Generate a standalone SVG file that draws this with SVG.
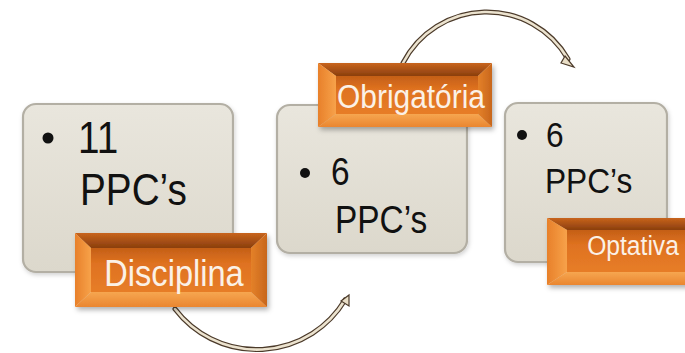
<svg xmlns="http://www.w3.org/2000/svg" width="685" height="353" viewBox="0 0 685 353">
  <defs>
    <linearGradient id="boxFill" x1="0" y1="0" x2="0" y2="1">
      <stop offset="0" stop-color="#e9e6dd"/>
      <stop offset="1" stop-color="#dcd8cc"/>
    </linearGradient>
    <linearGradient id="faceFill" x1="0" y1="0" x2="0" y2="1">
      <stop offset="0" stop-color="#c45f17"/>
      <stop offset="0.35" stop-color="#df7220"/>
      <stop offset="1" stop-color="#e77d28"/>
    </linearGradient>
    <linearGradient id="topBevel" x1="0" y1="0" x2="0" y2="1">
      <stop offset="0" stop-color="#c8641c"/>
      <stop offset="1" stop-color="#8a3e0e"/>
    </linearGradient>
    <linearGradient id="leftBevel" x1="0" y1="0" x2="1" y2="0">
      <stop offset="0" stop-color="#e8802a"/>
      <stop offset="1" stop-color="#f7a24a"/>
    </linearGradient>
    <linearGradient id="bottomBevel" x1="0" y1="0" x2="0" y2="1">
      <stop offset="0" stop-color="#f6a650"/>
      <stop offset="1" stop-color="#ea8630"/>
    </linearGradient>
    <linearGradient id="rightBevel" x1="0" y1="0" x2="1" y2="0">
      <stop offset="0" stop-color="#e48129"/>
      <stop offset="1" stop-color="#c8661c"/>
    </linearGradient>
    <filter id="shadow" x="-10%" y="-10%" width="125%" height="130%">
      <feDropShadow dx="2" dy="3" stdDeviation="2.5" flood-color="#000" flood-opacity="0.3"/>
    </filter>
    <filter id="softShadow" x="-10%" y="-10%" width="125%" height="130%">
      <feDropShadow dx="1" dy="2" stdDeviation="2" flood-color="#000" flood-opacity="0.18"/>
    </filter>
  </defs>
  <style>
    .box { fill: url(#boxFill); stroke: #b3afa4; stroke-width: 2.2; filter: url(#softShadow); }
    .txt { font-family: "Liberation Sans", Arial, sans-serif; fill: #111; }
    .lbl { font-family: "Liberation Sans", Arial, sans-serif; fill: #fbf1e6; text-anchor: middle; }
    .bullet { fill: #111; }
    .tb { fill: url(#topBevel); }
    .lb { fill: url(#leftBevel); }
    .bb { fill: url(#bottomBevel); }
    .rb { fill: url(#rightBevel); }
    .face { fill: url(#faceFill); }
    .arcOut { fill: none; stroke: #4b3a2a; stroke-width: 5; stroke-linecap: round; }
    .arcIn { fill: none; stroke: #ece3cf; stroke-width: 2.6; stroke-linecap: round; }
    .head { fill: #e9dec6; stroke: #4b3a2a; stroke-width: 1.2; }
  </style>

  <g id="connectors">
    <path class="arcOut" d="M403,63 A94,94 0 0,1 568,59"/>
    <path class="arcIn" d="M403,63 A94,94 0 0,1 568,59"/>
    <path class="head" d="M565,56 L574,67 L561,63 Z"/>
    <path class="arcOut" d="M175,309 A103,103 0 0,0 345,300"/>
    <path class="arcIn" d="M175,309 A103,103 0 0,0 345,300"/>
    <path class="head" d="M341,301 L349,295 L349,306 Z"/>
  </g>

  <g id="node-disciplina">
    <rect class="box" x="23" y="104" width="210" height="168" rx="13"/>
    <circle class="bullet" cx="48" cy="138" r="5.5"/>
    <text class="txt" transform="translate(78,153) scale(0.88,1)" font-size="44">11</text>
    <text class="txt" transform="translate(80,205) scale(0.88,1)" font-size="44">PPC’s</text>
    <g filter="url(#shadow)">
      <polygon class="tb" points="75,233 267,233 251,248 91,248"/>
      <polygon class="lb" points="75,233 91,248 91,292 75,307"/>
      <polygon class="bb" points="75,307 91,292 251,292 267,307"/>
      <polygon class="rb" points="267,233 267,307 251,292 251,248"/>
      <rect class="face" x="91" y="248" width="160" height="44"/>
    </g>
    <text class="lbl" transform="translate(174,286) scale(0.88,1)" font-size="37">Disciplina</text>
  </g>

  <g id="node-obrigatoria">
    <rect class="box" x="277" y="105" width="190" height="148" rx="13"/>
    <circle class="bullet" cx="305" cy="173" r="5"/>
    <text class="txt" transform="translate(331,185) scale(0.88,1)" font-size="38">6</text>
    <text class="txt" transform="translate(335,233) scale(0.88,1)" font-size="38">PPC’s</text>
    <g filter="url(#shadow)">
      <polygon class="tb" points="318,63 492,63 478,76 336,76"/>
      <polygon class="lb" points="318,63 336,76 336,114 318,127"/>
      <polygon class="bb" points="318,127 336,114 478,114 492,127"/>
      <polygon class="rb" points="492,63 492,127 478,114 478,76"/>
      <rect class="face" x="336" y="76" width="142" height="38"/>
    </g>
    <text class="lbl" transform="translate(411,108) scale(0.88,1)" font-size="34">Obrigatória</text>
  </g>

  <g id="node-optativa">
    <rect class="box" x="505" y="103" width="162" height="159" rx="13"/>
    <circle class="bullet" cx="522" cy="135" r="5"/>
    <text class="txt" transform="translate(546,147) scale(0.88,1)" font-size="36">6</text>
    <text class="txt" transform="translate(545,193) scale(0.88,1)" font-size="36">PPC’s</text>
    <g filter="url(#shadow)">
      <polygon class="tb" points="547,218 700,218 686,230 567,230"/>
      <polygon class="lb" points="547,218 567,230 567,272 547,285"/>
      <polygon class="bb" points="547,285 567,272 686,272 700,285"/>
      <rect class="face" x="567" y="230" width="133" height="42"/>
    </g>
    <text class="lbl" transform="translate(633,255) scale(0.88,1)" font-size="28">Optativa</text>
  </g>
</svg>
